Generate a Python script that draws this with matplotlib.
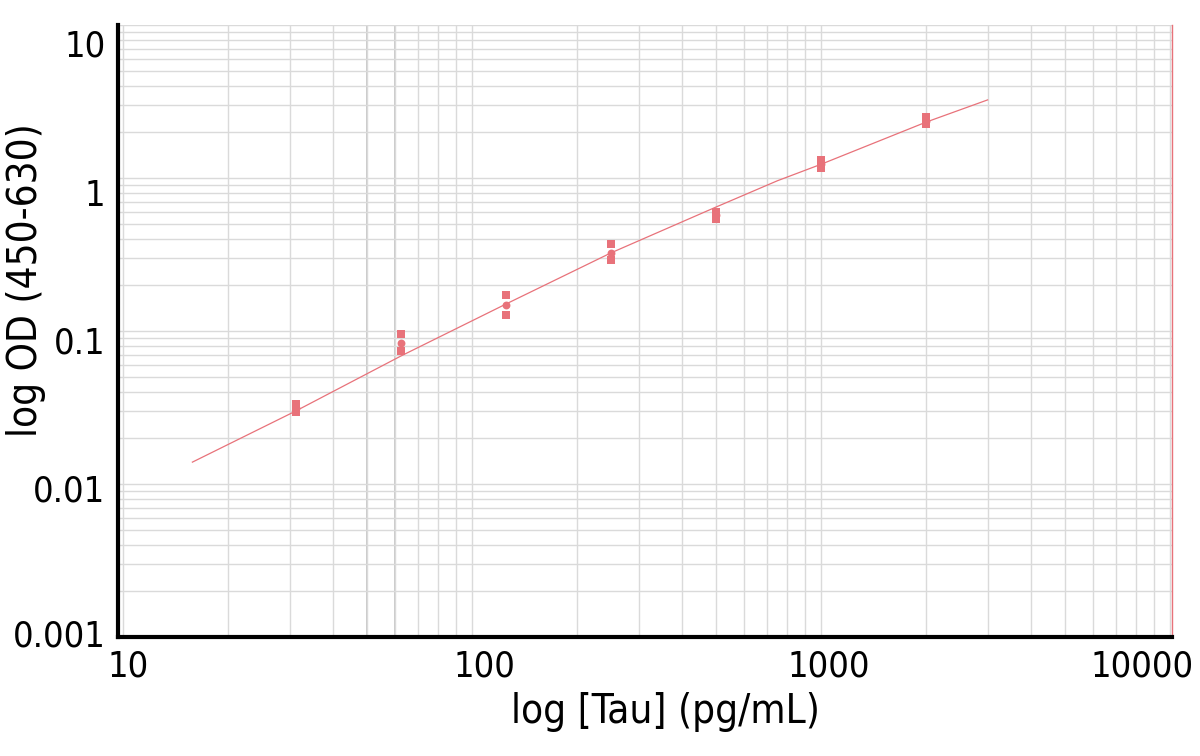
import numpy as np
import matplotlib.pyplot as plt
from matplotlib.ticker import FixedLocator, LogLocator, NullFormatter
from matplotlib.transforms import ScaledTranslation

# concentrations (pg/mL) and replicate OD readings
conc = [31.25, 62.5, 125, 250, 500, 1000, 2000]
od_rep1 = [0.0333, 0.0956, 0.172, 0.370, 0.600, 1.31, 2.50]
od_rep2 = [0.0296, 0.0740, 0.127, 0.291, 0.540, 1.16, 2.25]
od_mean = [0.0315, 0.0835, 0.148, 0.324, 0.570, 1.23, 2.37]

# fitted curve
fit_x = [15.8, 31.25, 62.5, 125, 250, 500, 750, 1000, 2000, 3000]
fit_y = [0.0139, 0.0300, 0.0686, 0.150, 0.324, 0.646, 0.96, 1.23, 2.32, 3.24]

x_ticks = [10, 100, 1000, 10000]
x_labels = ["10", "100", "1000", "10000"]
y_ticks = [0.001, 0.01, 0.1, 1, 10]
y_labels = ["0.001", "0.01", "0.1", "1", "10"]

RED = "#e8727a"
GRID = "#dadada"
font = {"family": "DejaVu Sans", "stretch": "condensed"}


def shift(label, fig, dx, dy):
    # nudge a tick label by (dx, dy) pixels
    label.set_transform(label.get_transform()
                        + ScaledTranslation(dx / fig.dpi, dy / fig.dpi, fig.dpi_scale_trans))


def main():
    fig = plt.figure(figsize=(12, 7.56), dpi=100)
    ax = fig.add_axes([0.0983, 0.1574, 0.8784, 0.8095])

    ax.set_xscale("log")
    ax.set_yscale("log")
    ax.set_xlim(9.67, 10130)
    ax.set_ylim(0.001, 10)

    ax.xaxis.set_major_locator(FixedLocator(x_ticks))
    ax.yaxis.set_major_locator(FixedLocator(y_ticks))
    ax.xaxis.set_minor_locator(LogLocator(base=10, subs=np.arange(2, 10)))
    ax.yaxis.set_minor_locator(LogLocator(base=10, subs=np.arange(2, 10)))
    ax.xaxis.set_minor_formatter(NullFormatter())
    ax.yaxis.set_minor_formatter(NullFormatter())
    ax.set_xticklabels(x_labels, fontsize=26, **font)
    ax.set_yticklabels(y_labels, fontsize=26, **font)
    ax.tick_params(which="both", length=0)
    ax.tick_params(axis="x", pad=9)
    ax.tick_params(axis="y", pad=9)

    for lab, dx in zip(ax.get_xticklabels(), [5, 12, 8, -28]):
        shift(lab, fig, dx, 0)
    for lab, dy in zip(ax.get_yticklabels(), [4, -4, -9, -14, -18]):
        shift(lab, fig, 0, dy)

    ax.grid(True, which="both", color=GRID, linewidth=1.0, zorder=0)
    for xv in (50, 60):
        ax.axvline(xv, color="#c6c6c6", linewidth=1.3, zorder=0)

    ax.spines["top"].set_visible(False)
    ax.spines["right"].set_color(RED)
    ax.spines["right"].set_linewidth(1.0)
    ax.spines["left"].set_linewidth(3)
    ax.spines["bottom"].set_linewidth(3)

    ax.plot(fit_x, fit_y, color=RED, linewidth=0.9, zorder=3)
    ax.scatter(conc, od_rep1, marker="s", s=30, color=RED, zorder=4, linewidths=0)
    ax.scatter(conc, od_rep2, marker="s", s=30, color=RED, zorder=4, linewidths=0)
    ax.scatter(conc, od_mean, marker="o", s=32, color=RED, zorder=4, linewidths=0)

    ax.set_xlabel("log [Tau] (pg/mL)", fontsize=29, **font)
    ax.set_ylabel("log OD (450-630)", fontsize=29, **font)
    ax.xaxis.set_label_coords(0.519, -0.09)
    ax.yaxis.set_label_coords(-0.068, 0.583)

    fig.savefig("out.png", dpi=100)


if __name__ == "__main__":
    main()
